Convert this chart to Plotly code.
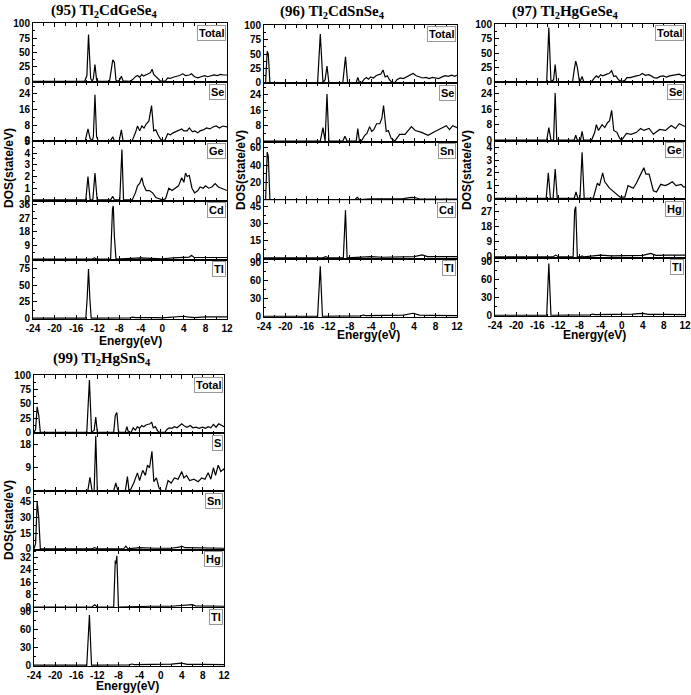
import plotly.graph_objects as go

# ---- data: energy (eV) / DOS (state/eV) ----

# energy tick labels (plain hyphen minus, as in the original)
energy_ticks = [-24, -20, -16, -12, -8, -4, 0, 4, 8, 12]
energy_tick_text = ['-24', '-20', '-16', '-12', '-8', '-4', '0', '4', '8', '12']

# (95) Tl2CdGeSe4
e95_tot = [-24, -14.4, -14.0, -13.7, -13.3, -13.0, -12.8, -12.5, -12.2, -11.9, -9.8, -9.5, -9.2, -8.9, -8.6,
           -8.2, -7.9, -7.6, -7.3, -6.0, -5.5, -5.0, -4.6, -4.2, -3.8, -3.5, -3.0, -2.6, -2.2, -1.9,
           -1.6, -1.2, -0.8, -0.4, 0.0, 0.6, 1.0, 1.5, 2.0, 2.6, 3.2, 3.8, 4.3, 5.0, 5.4,
           6.0, 6.6, 7.2, 7.8, 8.4, 9.0, 9.6, 10.2, 10.8, 11.4, 12.0]
d95_tot = [0, 0, 10, 81, 5, 0, 5, 29, 2, 0, 0, 20, 37, 33, 2,
           0, 3, 9, 1, 0, 3, 8, 10, 7, 12, 9, 12, 13, 15, 21,
           12, 8, 4, 1, 0, 1, 6, 5, 7, 8, 10, 13, 10, 11, 13,
           8, 6, 8, 10, 8, 10, 11, 10, 12, 11, 11]
e95_se = [-24, -14.3, -13.8, -13.4, -13.0, -12.8, -12.5, -12.2, -11.9, -9.6, -9.2, -8.9, -8.0, -7.6, -7.3,
          -5.6, -5.0, -4.6, -4.2, -3.8, -3.4, -3.0, -2.5, -2.0, -1.6, -1.2, -0.8, -0.4, 0.0, 0.5,
          1.0, 1.5, 2.0, 3.0, 3.6, 4.0, 4.6, 5.0, 5.6, 6.0, 6.6, 7.0, 7.6, 8.2, 8.8,
          9.4, 10.0, 10.6, 11.2, 12.0]
d95_se = [0, 0, 6, 1, 0, 2, 23.5, 2, 0, 0, 2, 0, 0, 5.5, 0,
          0, 4, 7.5, 5, 7.5, 6.5, 8.5, 10, 18, 5, 5.5, 3, 1, 0, 0.3,
          3.5, 3, 4, 5, 6, 5, 5, 6.5, 4.5, 5, 4, 5, 5.5, 6.5, 6,
          7, 7.5, 6.5, 7.5, 7]
e95_ge = [-24, -14.2, -13.8, -13.4, -12.9, -12.5, -12.1, -9.6, -9.2, -8.9, -7.9, -7.5, -7.2, -5.6, -5.0,
          -4.6, -4.2, -3.8, -3.5, -3.0, -2.4, -1.8, -1.2, -0.6, 0.0, 0.6, 1.2, 1.8, 2.4, 3.0,
          3.6, 4.0, 4.3, 4.6, 5.0, 5.5, 6.0, 6.6, 7.0, 7.6, 8.0, 8.6, 9.2, 9.8, 10.4,
          11.0, 11.6, 12.0]
d95_ge = [0, 0, 2.0, 0, 0, 2.3, 0, 0, 0.3, 0, 0, 4.3, 0, 0, 0.6,
          1.2, 1.4, 1.9, 1.3, 0.8, 0.8, 0.6, 0.2, 0.1, 0, 0.1, 1.0, 0.8, 1.0, 1.2,
          1.9, 1.5, 2.3, 2.0, 2.1, 1.0, 0.6, 0.8, 1.1, 1.0, 1.2, 1.0, 1.1, 1.4, 1.1,
          1.0, 0.9, 0.8]
e95_cd = [-24, -13.0, -12.6, -12.2, -9.6, -9.4, -9.25, -9.1, -8.9, -8.6, -7.0, -4.0, -2.0, 0.0, 2.0,
          4.0, 5.0, 5.4, 5.9, 8.0, 10.0, 12.0]
d95_cd = [0, 0, 0.8, 0, 0, 20, 33, 35, 15, 0, 0.3, 0.8, 0.5, 0.2, 0.8,
          0.8, 1.2, 2.5, 1.0, 1.0, 1.2, 1.0]
e95_tl = [-24, -14.2, -13.95, -13.7, -13.45, -13.2, -6.0, -5.5, -5.0, -4.0, -2.0, -1.0, 0.0, 2.0, 3.0,
          4.0, 4.6, 6.0, 8.0, 10.0, 12.0]
d95_tl = [0, 0, 30, 75, 30, 0, 0.5, 1.5, 0.8, 1.0, 0.8, 1.0, 0.5, 2.0, 2.5,
          3.0, 2.0, 1.0, 2.0, 1.5, 2.0]

# (96) Tl2CdSnSe4
e96_tot = [-24, -23.7, -23.4, -23.2, -22.9, -14.0, -13.5, -13.0, -12.6, -12.25, -11.9, -9.3, -8.8, -8.4, -6.8,
           -6.5, -6.2, -5.8, -5.3, -4.9, -4.5, -4.1, -3.6, -3.1, -2.6, -2.2, -1.8, -1.4, -1.0, -0.6,
           -0.2, 0.4, 0.8, 1.4, 2.0, 2.6, 3.2, 3.8, 4.4, 5.0, 5.6, 6.2, 6.8, 7.4, 8.0,
           8.6, 9.2, 9.8, 10.4, 11.0, 11.6, 12.0]
d96_tot = [0, 0, 55, 50, 0, 0, 85, 0, 5, 29, 0, 0, 45, 0, 0,
           9, 0, 0, 6, 9, 6, 10, 8, 12, 14, 15, 22, 10, 12, 5,
           1, 0, 5, 8, 7, 10, 12, 16, 12, 10, 8, 9, 7, 9, 8,
           7, 10, 12, 11, 13, 11, 13]
e96_se = [-24, -13.5, -13.0, -12.6, -12.25, -11.9, -9.3, -8.9, -8.5, -6.8, -6.5, -6.2, -5.85, -5.2, -4.8,
          -4.3, -3.9, -3.5, -3.0, -2.4, -2.0, -1.7, -1.2, -0.8, -0.3, 0.4, 1.3, 2.3, 3.5, 4.2,
          5.4, 6.6, 7.9, 9.1, 10.0, 10.6, 11.2, 12.0]
d96_se = [0, 0, 7, 0, 24.5, 0, 0, 2.5, 0, 0, 6.5, 0, 0, 3, 4,
          7.5, 5, 6, 9, 9, 12, 18.5, 5, 5.5, 1.5, 0, 3.5, 3.5, 7.5, 5.5,
          4.5, 3, 5, 6.5, 8, 6, 8, 7]
e96_sn = [-24, -23.7, -23.4, -23.2, -22.9, -13.0, -12.5, -12.0, -7.0, -6.6, -6.2, -4.0, -1.0, 2.0, 3.5,
          4.3, 5.0, 8.0, 12.0]
d96_sn = [0, 0, 55, 50, 0, 0, 0.8, 0, 0, 2.5, 0, 0.8, 0.5, 1.0, 2.5,
          2.0, 0.6, 0.5, 0.5]
e96_cd = [-24, -13.0, -12.5, -12.0, -9.2, -8.8, -8.5, -5.0, -4.0, -2.0, 2.0, 4.0, 5.5, 6.5, 9.0, 12.0]
d96_cd = [0, 0, 1.0, 0, 0, 42, 0, 0.5, 1.0, 0.5, 0.5, 1.0, 2.5, 1.0, 1.0, 1.0]
e96_tl = [-24, -14.0, -13.5, -13.1, -6.0, -5.5, -5.0, -4.0, -1.0, 2.0, 3.8, 5.0, 7.0, 12.0]
d96_tl = [0, 0, 84, 0, 0.5, 2.0, 1.0, 1.0, 1.5, 2.0, 5.0, 2.0, 1.5, 1.0]

# (97) Tl2HgGeSe4
e97_tot = [-24, -14.2, -13.8, -13.4, -12.9, -12.6, -12.3, -9.3, -9.0, -8.7, -8.4, -8.0, -7.8, -7.5, -7.2,
           -5.7, -5.2, -4.8, -4.4, -4.0, -3.6, -3.2, -2.8, -2.4, -1.9, -1.5, -1.1, -0.6, 0.0, 0.6,
           1.0, 1.6, 2.2, 2.8, 3.4, 3.9, 4.5, 5.1, 5.6, 6.1, 6.7, 7.3, 7.9, 8.5, 9.1,
           9.7, 10.3, 10.9, 11.5, 12.0]
d97_tot = [0, 0, 95, 0, 3, 30, 0, 0, 20, 36, 25, 0, 2, 9, 0,
           0, 6, 10, 7, 12, 10, 12, 13, 14, 19, 9, 10, 3, 0, 2,
           7, 7, 9, 10, 11, 14, 11, 12, 10, 7, 6, 9, 10, 8, 10,
           11, 11, 13, 10, 11]
e97_se = [-24, -14.2, -13.8, -13.4, -12.9, -12.6, -12.3, -9.0, -8.7, -8.4, -7.8, -7.5, -7.2, -5.7, -5.1,
          -4.8, -4.4, -3.7, -3.2, -2.7, -2.3, -1.9, -1.5, -0.9, -0.4, 0.0, 0.9, 1.8, 2.8, 3.6,
          4.2, 5.2, 6.0, 7.2, 8.3, 9.4, 10.2, 10.9, 12.0]
d97_se = [0, 0, 6.5, 0, 0, 24.5, 0, 0, 2.5, 0, 0, 4.5, 0, 0, 4,
          8, 5, 8, 6.5, 9, 10, 15.5, 5, 4, 1, 0, 3.5, 3, 4, 6,
          5, 6, 3, 5.5, 5, 7.5, 6, 8.5, 7]
e97_ge = [-24, -14.3, -13.9, -13.5, -13.0, -12.6, -12.2, -9.0, -8.65, -8.3, -7.9, -7.5, -7.1, -5.4, -4.6,
          -4.2, -3.6, -3.2, -2.3, -1.4, -0.3, 0.6, 1.2, 2.2, 2.8, 3.5, 4.2, 4.6, 5.2, 6.0,
          6.6, 7.4, 8.2, 8.8, 9.6, 10.3, 11.3, 11.7, 12.0]
d97_ge = [0, 0, 2.0, 0, 0, 2.3, 0, 0, 0.5, 0, 0, 3.6, 0, 0, 1.2,
          1.0, 2.0, 1.3, 0.8, 0.5, 0.1, 0.1, 1.0, 0.8, 1.2, 1.8, 2.4, 1.9, 1.9, 0.6,
          0.5, 1.1, 1.0, 1.1, 1.3, 1.0, 1.1, 0.9, 0.9]
e97_hg = [-24, -13.0, -12.5, -12.0, -9.2, -8.9, -8.7, -8.4, -7.8, -7.5, -7.2, -4.5, -4.0, -2.0, 2.0,
          4.0, 5.5, 6.5, 9.0, 12.0]
d97_hg = [0, 0, 1.0, 0, 0, 28, 30, 0, 0, 0.5, 0, 0.5, 1.0, 0.5, 0.5,
          0.8, 2.0, 0.8, 1.0, 1.0]
e97_tl = [-24, -14.2, -13.8, -13.4, -6.0, -5.5, -5.0, -4.0, -1.0, 2.0, 4.0, 5.0, 8.0, 12.0]
d97_tl = [0, 0, 87, 0, 0.5, 2.0, 1.0, 1.0, 1.0, 2.0, 3.0, 1.5, 1.5, 1.0]

# (99) Tl2HgSnS4
e99_tot = [-24, -23.7, -23.4, -23.1, -22.8, -14.0, -13.5, -13.1, -12.6, -12.3, -12.0, -8.9, -8.6, -8.3, -8.0,
           -7.8, -6.7, -6.4, -6.1, -5.6, -5.2, -4.8, -4.4, -4.0, -3.6, -3.2, -2.8, -2.4, -2.0, -1.7,
           -1.4, -1.0, -0.6, -0.2, 0.8, 1.2, 1.6, 2.1, 2.6, 3.1, 3.6, 4.0, 4.5, 5.0, 5.6,
           6.1, 6.7, 7.3, 7.9, 8.5, 9.0, 9.5, 10.0, 10.5, 11.0, 11.5, 12.0]
d99_tot = [0, 5, 45, 30, 0, 0, 92, 0, 4, 27, 0, 0, 30, 35, 2,
           0, 0, 10, 0, 0, 8, 4, 10, 7, 12, 10, 13, 14, 15, 18,
           8, 10, 3, 0, 0, 5, 8, 7, 10, 8, 12, 15, 11, 9, 12,
           8, 9, 7, 9, 7, 10, 8, 14, 9, 15, 12, 10]
e99_s = [-24, -13.8, -13.4, -13.0, -12.6, -12.3, -12.0, -8.9, -8.5, -8.1, -6.7, -6.3, -6.0, -5.8, -5.1,
         -4.4, -4.0, -3.4, -2.9, -2.5, -2.1, -1.65, -1.3, -0.8, -0.3, 0.2, 0.9, 1.4, 2.0, 2.6,
         3.3, 4.0, 4.4, 4.9, 5.5, 6.3, 7.1, 7.8, 8.4, 9.0, 9.5, 10.0, 10.4, 10.9, 11.4,
         11.9, 12.0]
d99_s = [0, 0, 5.2, 0, 0, 21.5, 0, 0, 3, 0, 0, 5.5, 0, 0, 3,
         7, 4, 8, 6, 10, 9, 15.5, 3.5, 5, 1, 0, 0, 4, 3, 5,
         4.5, 7.5, 5, 6, 4, 4.5, 3.5, 5, 4.5, 7, 4.5, 9, 6, 10, 7.5,
         8.5, 8]
e99_sn = [-24, -23.7, -23.4, -23.1, -22.8, -13.0, -12.5, -12.0, -7.0, -6.6, -6.2, -4.5, -4.0, -1.0, 2.0,
          3.5, 4.0, 4.6, 8.0, 12.0]
d99_sn = [0, 5, 45, 30, 0, 0, 1.0, 0, 0, 2.5, 0, 0.5, 1.0, 0.5, 0.5,
          1.5, 2.5, 1.0, 0.5, 0.5]
e99_hg = [-24, -13.0, -12.5, -12.0, -8.9, -8.6, -8.45, -8.3, -8.0, -4.5, -4.0, -2.0, 2.0, 5.5, 6.0,
          6.6, 9.0, 12.0]
d99_hg = [0, 0, 1.5, 0, 0, 30, 28, 33, 0, 0.3, 0.8, 0.5, 0.5, 1.0, 1.5,
          0.8, 0.5, 0.5]
e99_tl = [-24, -14.0, -13.5, -13.1, -6.0, -5.5, -5.0, -4.0, -1.0, 2.0, 4.0, 5.0, 8.0, 12.0]
d99_tl = [0, 0, 84, 0, 0.5, 2.0, 1.0, 1.0, 1.5, 2.0, 3.5, 1.5, 1.5, 1.0]

# ---- layout (pixel boxes of each panel in the 691x695 page) ----
W, H = 691, 695


def px(x):
    return x / W


def py(y):
    return 1 - y / H


panels = [
    dict(title='(95) Tl<sub>2</sub>CdGeSe<sub>4</sub>', box=(33, 227, 23, 319),
         title_at=(104, 11), xlab_at=(130, 341), ylab_at=(9, 168),
         rows=[('Total', e95_tot, d95_tot, [-1.5, 101], 25),
               ('Se', e95_se, d95_se, [-0.4, 30], 8),
               ('Ge', e95_ge, d95_ge, [-0.06, 5], 1),
               ('Cd', e95_cd, d95_cd, [-0.5, 38.5], 9),
               ('Tl', e95_tl, d95_tl, [-1.2, 89], 25)]),
    dict(title='(96) Tl<sub>2</sub>CdSnSe<sub>4</sub>', box=(264, 457, 25, 317),
         title_at=(332, 12), xlab_at=(368, 335), ylab_at=(241, 170),
         rows=[('Total', e96_tot, d96_tot, [-1.5, 101], 25),
               ('Se', e96_se, d96_se, [-0.4, 30], 8),
               ('Sn', e96_sn, d96_sn, [-0.8, 67], 20),
               ('Cd', e96_cd, d96_cd, [-0.7, 51], 15),
               ('Tl', e96_tl, d96_tl, [-1.3, 97], 30)]),
    dict(title='(97) Tl<sub>2</sub>HgGeSe<sub>4</sub>', box=(495, 685, 24, 316),
         title_at=(565, 12), xlab_at=(594, 335), ylab_at=(467, 170),
         rows=[('Total', e97_tot, d97_tot, [-1.5, 101], 25),
               ('Se', e97_se, d97_se, [-0.4, 30], 8),
               ('Ge', e97_ge, d97_ge, [-0.06, 4.5], 1),
               ('Hg', e97_hg, d97_hg, [-0.5, 34.5], 9),
               ('Tl', e97_tl, d97_tl, [-1.3, 97], 30)]),
    dict(title='(99) Tl<sub>2</sub>HgSnS<sub>4</sub>', box=(34, 224, 375, 666),
         title_at=(102, 359), xlab_at=(127, 686), ylab_at=(9, 520),
         rows=[('Total', e99_tot, d99_tot, [-1.5, 101], 25),
               ('S', e99_s, d99_s, [-0.3, 22.6], 9),
               ('Sn', e99_sn, d99_sn, [-0.8, 55], 15),
               ('Hg', e99_hg, d99_hg, [-0.5, 37], 8),
               ('Tl', e99_tl, d99_tl, [-1.3, 96], 30)]),
]

tick_font = dict(family='Liberation Sans', size=10, color='black', weight='bold')
fig = go.Figure()
axes = {}
notes = []
n = 0
for p in panels:
    x0, x1, y0, y1 = p['box']
    h = (y1 - y0) / len(p['rows'])
    for i, (name, e, d, yr, dt) in enumerate(p['rows']):
        n += 1
        sfx = '' if n == 1 else str(n)
        top = y0 + i * h
        bot = top + h
        last = i == len(p['rows']) - 1
        fig.add_trace(go.Scatter(x=e, y=d, mode='lines', line=dict(color='black', width=1.2),
                                 xaxis='x' + sfx, yaxis='y' + sfx,
                                 showlegend=False, hoverinfo='skip'))
        axes['xaxis' + sfx] = dict(
            domain=[px(x0), px(x1)], anchor='y' + sfx, range=[-24, 12], automargin=False,
            tickmode='array', tickvals=energy_ticks, ticktext=energy_tick_text,
            ticks='inside', ticklen=4, tickcolor='black',
            minor=dict(ticks='inside', ticklen=2.5, dtick=2, tick0=0, tickcolor='black'),
            showline=True, linecolor='black', linewidth=1, mirror='ticks',
            showgrid=False, zeroline=False, showticklabels=last, tickfont=tick_font)
        axes['yaxis' + sfx] = dict(
            domain=[py(bot), py(top)], anchor='x' + sfx, range=yr, automargin=False,
            tick0=0, dtick=dt, ticks='inside', ticklen=4, tickcolor='black',
            minor=dict(ticks='inside', ticklen=2, dtick=dt / 2, tickcolor='black'),
            showline=True, linecolor='black', linewidth=1, mirror=True,
            showgrid=False, zeroline=False, tickfont=tick_font)
        # element label in the top-right corner
        notes.append(dict(text='<b>%s</b>' % name, xref='paper', yref='paper',
                          x=px(x1 - 1), y=py(top + 1.5), xanchor='right', yanchor='top',
                          showarrow=False, bgcolor='white', bordercolor='#999999',
                          borderwidth=1, borderpad=1,
                          font=dict(family='Liberation Sans', size=11, color='black')))
    tx, ty = p['title_at']
    notes.append(dict(text='<b>%s</b>' % p['title'], xref='paper', yref='paper',
                      x=px(tx), y=py(ty), xanchor='center', yanchor='middle', showarrow=False,
                      font=dict(family='Liberation Serif', size=15, color='black')))
    lx, ly = p['xlab_at']
    notes.append(dict(text='<b>Energy(eV)</b>', xref='paper', yref='paper',
                      x=px(lx), y=py(ly), xanchor='center', yanchor='middle', showarrow=False,
                      font=dict(family='Liberation Sans', size=12, color='black')))
    vx, vy = p['ylab_at']
    notes.append(dict(text='<b>DOS(state/eV)</b>', xref='paper', yref='paper', textangle=-90,
                      x=px(vx), y=py(vy), xanchor='center', yanchor='middle', showarrow=False,
                      font=dict(family='Liberation Sans', size=12, color='black')))

fig.update_layout(width=W, height=H, margin=dict(l=0, r=0, t=0, b=0, autoexpand=False),
                  paper_bgcolor='white', plot_bgcolor='white',
                  annotations=notes, **axes)

# drop the browser's default 8px body margin so the page maps 1:1 onto the window
fig.write_html("out.html", config={'displayModeBar': False},
               post_script="document.body.style.margin='0px';")
